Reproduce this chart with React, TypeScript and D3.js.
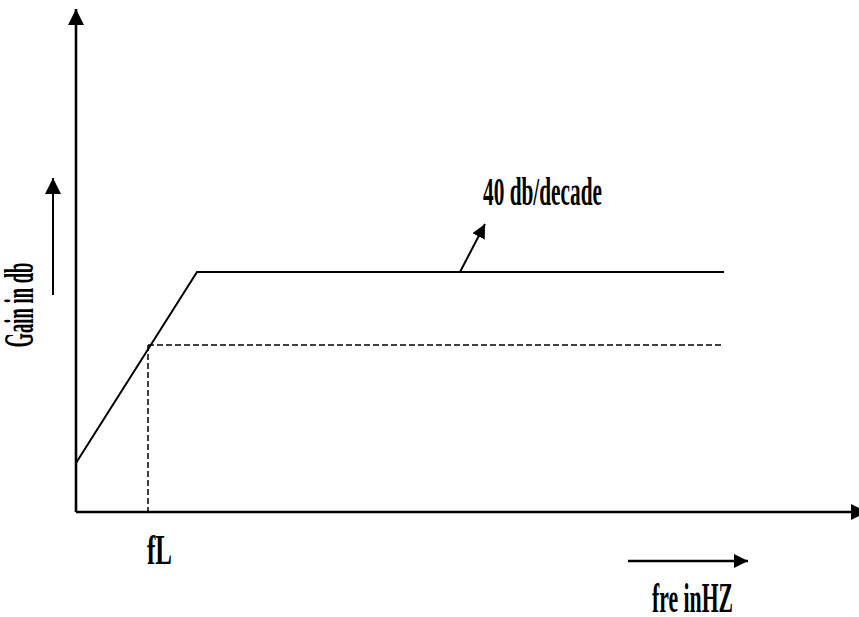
import React from "react";
import * as d3 from "d3";

const curveFreq = [0, 121, 648];
const curveGain = [49, 240, 240];
const dashFreq = [72, 648];
const dashGain = [167, 167];
const fLFreq = 72;
const annotation = "40 db/decade";
const yLabel = "Gain in db";
const xLabel = "fre inHZ";
const fLLabel = "fL";

const W = 859;
const H = 617;

export default function App() {
  const x = d3.scaleLinear().domain([0, 784]).range([76, 860]);
  const y = d3.scaleLinear().domain([0, 504]).range([512, 8]);
  const line = d3
    .line<number>()
    .x((_, i) => x(curveFreq[i]))
    .y((d) => y(d));
  const dash = d3
    .line<number>()
    .x((_, i) => x(dashFreq[i]))
    .y((d) => y(d));
  const font = "'Liberation Serif', 'Times New Roman', serif";
  return (
    <svg
      width={W}
      height={H}
      style={{ position: "absolute", left: 0, top: 0, background: "#fff" }}
    >
      <defs>
        <marker id="ah" viewBox="0 0 10 10" refX="10" refY="5" markerWidth="16" markerHeight="16" markerUnits="userSpaceOnUse" orient="auto">
          <path d="M0,0 L10,5 L0,10 z" fill="#000" />
        </marker>
        <marker id="ah2" viewBox="0 0 10 10" refX="10" refY="5" markerWidth="14" markerHeight="14" markerUnits="userSpaceOnUse" orient="auto">
          <path d="M0,0 L10,5 L0,10 z" fill="#000" />
        </marker>
      </defs>
      {/* axes */}
      <line x1={x(0)} y1={y(0)} x2={x(0)} y2={9} stroke="#000" strokeWidth={2.6} markerEnd="url(#ah)" />
      <line x1={x(0)} y1={y(0)} x2={867} y2={y(0)} stroke="#000" strokeWidth={2.6} markerEnd="url(#ah)" />
      {/* curve */}
      <path d={line(curveGain) || ""} fill="none" stroke="#000" strokeWidth={2} />
      <path d={dash(dashGain) || ""} fill="none" stroke="#000" strokeWidth={1.5} strokeDasharray="6,3" />
      <line x1={x(fLFreq)} y1={y(dashGain[0])} x2={x(fLFreq)} y2={y(0)} stroke="#000" strokeWidth={1.5} strokeDasharray="6,3" />
      {/* annotation arrow */}
      <line x1={460} y1={272} x2={485} y2={224} stroke="#000" strokeWidth={2} markerEnd="url(#ah2)" />
      <text x={483} y={205} fontFamily={font} fontWeight="bold" fontSize={41} textLength={119} lengthAdjust="spacingAndGlyphs">
        {annotation}
      </text>
      {/* y label and arrow */}
      <text transform="translate(33,305) rotate(-90)" textAnchor="middle" fontFamily={font} fontWeight="bold" fontSize={42} textLength={85} lengthAdjust="spacingAndGlyphs">
        {yLabel}
      </text>
      <line x1={53} y1={295} x2={53} y2={178} stroke="#000" strokeWidth={2} markerEnd="url(#ah)" />
      {/* fL */}
      <text x={147} y={564} fontFamily={font} fontWeight="bold" fontSize={42} textLength={25} lengthAdjust="spacingAndGlyphs">
        {fLLabel}
      </text>
      {/* x label and arrow */}
      <line x1={628} y1={561} x2={748} y2={561} stroke="#000" strokeWidth={2.4} markerEnd="url(#ah2)" />
      <text x={652} y={612} fontFamily={font} fontWeight="bold" fontSize={42} textLength={81} lengthAdjust="spacingAndGlyphs">
        {xLabel}
      </text>
    </svg>
  );
}
